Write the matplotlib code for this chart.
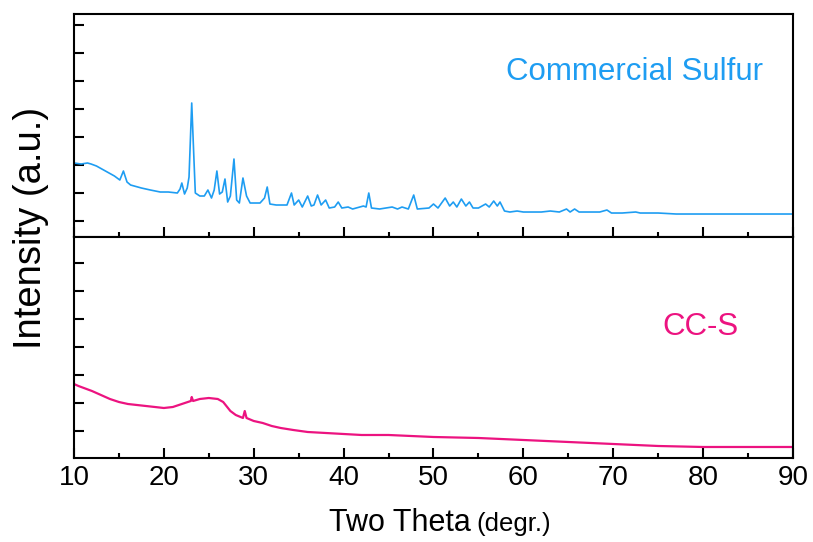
import matplotlib
matplotlib.use("Agg")
import matplotlib.pyplot as plt
from matplotlib.ticker import MultipleLocator

plt.rcParams['font.family'] = ['Liberation Sans', 'DejaVu Sans']

# commercial sulfur pattern (two theta, intensity a.u.)
sulfur_2theta = [10.0, 10.8, 11.5, 11.9, 12.5, 13.5, 14.5, 15.1, 15.5, 15.9, 16.3, 17.5,
                 18.5, 19.6, 20.5, 21.5, 21.8, 22.0, 22.3, 22.6, 22.8, 23.1, 23.35, 23.5,
                 24.0, 24.5, 24.9, 25.3, 25.6, 25.9, 26.2, 26.5, 26.8, 27.1, 27.4, 27.8,
                 28.1, 28.4, 28.8, 29.2, 29.6, 30.7, 31.2, 31.5, 31.8, 32.5, 33.7, 34.2,
                 34.5, 35.0, 35.4, 36.0, 36.4, 36.7, 37.1, 37.5, 38.0, 38.4, 39.0, 39.4,
                 39.8, 40.5, 41.0, 42.2, 42.5, 42.8, 43.1, 44.0, 45.4, 46.0, 46.5, 47.2,
                 47.8, 48.2, 49.5, 50.0, 50.5, 51.3, 51.8, 52.2, 52.6, 53.1, 53.6, 54.0,
                 54.4, 55.0, 55.8, 56.2, 56.7, 57.1, 57.4, 57.9, 58.5, 59.3, 60.0, 61.0,
                 62.0, 63.0, 64.0, 64.8, 65.2, 65.7, 66.2, 67.5, 68.5, 69.3, 69.8, 71.0,
                 72.5, 73.0, 75.0, 77.0, 80.0, 83.0, 86.0, 90.0]
sulfur_int = [74, 73, 74, 73, 71, 66, 61, 57, 66, 55, 52, 49,
              47, 45, 45, 44, 48, 54, 43, 49, 60, 134, 77, 44,
              41, 41, 47, 39, 47, 66, 43, 45, 58, 35, 41, 78,
              37, 34, 59, 41, 34, 34, 39, 50, 33, 32, 32, 44,
              32, 37, 30, 41, 31, 32, 42, 32, 37, 29, 30, 35,
              29, 30, 28, 31, 30, 44, 29, 28, 30, 28, 30, 28,
              42, 28, 29, 33, 29, 39, 31, 35, 30, 38, 31, 35,
              29, 29, 33, 30, 36, 31, 35, 26, 25, 26, 25, 25,
              25, 26, 25, 28, 25, 28, 25, 25, 25, 27, 24, 24,
              25, 24, 24, 23, 23, 23, 23, 23]

# CC-S composite pattern
ccs_2theta = [10.0, 10.5, 12.0, 13.0, 14.0, 15.0, 16.0, 17.0, 18.0, 19.0, 20.0, 21.0,
              22.0, 23.0, 23.1, 23.25, 24.0, 25.0, 26.0, 26.6, 27.4, 28.0, 28.8, 29.0,
              29.2, 30.0, 31.0, 32.0, 33.0, 34.4, 36.0, 38.0, 40.0, 42.0, 45.0, 50.0,
              55.0, 60.0, 65.0, 70.0, 75.0, 80.0, 85.0, 90.0]
ccs_int = [74, 72, 67, 63, 59, 56, 54, 53, 52, 51, 50, 51,
           54, 57, 61, 57, 59, 60, 59, 56, 47, 43, 40, 47,
           40, 37, 35, 32, 30, 28, 26, 25, 24, 23, 23, 21,
           20, 18, 16, 14, 12, 11, 11, 11]

blue = '#1E9DF2'
pink = '#EC1380'

fig = plt.figure(figsize=(8.13, 5.42), dpi=100)
ax1 = fig.add_axes([0.091, 0.5627, 0.8844, 0.4115])
ax2 = fig.add_axes([0.091, 0.155, 0.8844, 0.4077], sharex=ax1)

ax1.plot(sulfur_2theta, sulfur_int, color=blue, lw=1.2)
ax2.plot(ccs_2theta, ccs_int, color=pink, lw=1.6)

ax1.set_ylim(0, 223)
ax2.set_ylim(0, 221)
ax1.set_yticks([16 + 28 * k for k in range(8)])
ax2.set_yticks([27 + 28 * k for k in range(7)])

for ax in (ax1, ax2):
    ax.set_xlim(10, 90)
    ax.xaxis.set_major_locator(MultipleLocator(10))
    ax.xaxis.set_minor_locator(MultipleLocator(5))
    ax.tick_params(which='both', direction='in', width=1.5, top=False, right=False)
    ax.tick_params(which='major', length=7)
    ax.tick_params(which='minor', length=3.5)
    ax.tick_params(axis='y', labelleft=False, length=7)
    for s in ax.spines.values():
        s.set_linewidth(1.5)

ax1.tick_params(axis='x', labelbottom=False)
ax2.tick_params(axis='x', labelsize=20, pad=5)

ax1.text(0.78, 0.74, 'Commercial Sulfur', transform=ax1.transAxes, color=blue,
         fontsize=22.5, ha='center', va='center')
ax2.text(0.871, 0.593, 'CC-S', transform=ax2.transAxes, color=pink,
         fontsize=22.5, ha='center', va='center')

fig.text(0.038, 0.58, 'Intensity (a.u.)', rotation=90, fontsize=27.5,
         ha='center', va='center')
fig.text(0.579, 0.02, 'Two Theta', fontsize=22, ha='right', va='baseline')
fig.text(0.5855, 0.02, '(degr.)', fontsize=18.5, ha='left', va='baseline')

fig.savefig('out.png', dpi=100)
